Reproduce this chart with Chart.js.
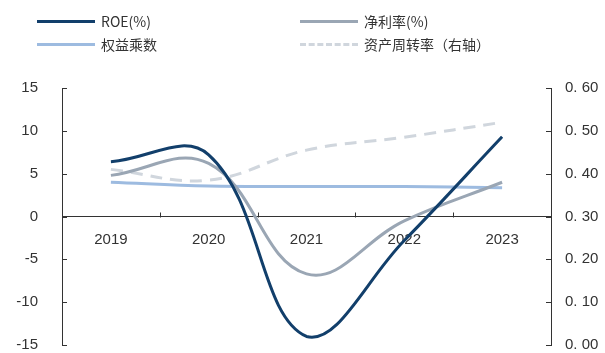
<!DOCTYPE html>
<html>
<head>
<meta charset="utf-8">
<script src="https://cdn.jsdelivr.net/npm/chart.js@4"></script>
<style>
    body { margin: 0; background: #fff; overflow: hidden; }
    #wrap { position: relative; width: 605px; height: 353px; overflow: hidden; }
    #legend { position: absolute; left: 0; top: 0; width: 605px; height: 60px; font-family: "Noto Sans CJK SC", "Liberation Sans", sans-serif; font-size: 14px; color: #333; }
    .item { position: absolute; display: flex; align-items: center; white-space: nowrap; }
    .swatch { width: 58px; height: 0; margin-right: 6px; }
</style>
</head>
<body>
<div id="wrap">
    <!-- taller than the window: the original crops the bottom labels -->
    <canvas id="chart" width="605" height="370"></canvas>
    <div id="legend"></div>
</div>
<script>
const years = ['2019', '2020', '2021', '2022', '2023'];
const roe = [6.4, 7.2, -14.0, -2.8, 9.3];
const netMargin = [4.8, 6.2, -6.7, -0.5, 4.0];
const equityMultiplier = [4.0, 3.55, 3.5, 3.5, 3.35];
const assetTurnover = [0.41, 0.385, 0.455, 0.485, 0.52];

const leftTicks = [-15, -10, -5, 0, 5, 10, 15];
const rightTicks = [0, 0.1, 0.2, 0.3, 0.4, 0.5, 0.6];

const axisColor = '#333';
const labelFont = { family: 'Liberation Sans, Arial, sans-serif', size: 15 };

// ticks that point into the plot, like the original
const innerTicks = {
    id: 'innerTicks',
    afterDraw(chart) {
        const ctx = chart.ctx;
        const { x, y, y1 } = chart.scales;
        const len = 5;
        ctx.save();
        ctx.strokeStyle = axisColor;
        ctx.lineWidth = 1;
        ctx.beginPath();
        leftTicks.forEach(v => {
            const py = Math.round(y.getPixelForValue(v)) + 0.5;
            ctx.moveTo(x.left, py);
            ctx.lineTo(x.left + len, py);
        });
        rightTicks.forEach(v => {
            const py = Math.round(y1.getPixelForValue(v)) + 0.5;
            ctx.moveTo(x.right, py);
            ctx.lineTo(x.right - len, py);
        });
        const y0 = Math.round(y.getPixelForValue(0)) + 0.5;
        for (let i = 1; i < years.length; i++) {
            const px = Math.round((x.getPixelForValue(i - 1) + x.getPixelForValue(i)) / 2) + 0.5;
            ctx.moveTo(px, y0);
            ctx.lineTo(px, y0 - len);
        }
        ctx.stroke();
        ctx.restore();
    }
};

const chart = new Chart(document.querySelector('#chart'), {
    type: 'line',
    data: {
        labels: years,
        datasets: [
            { label: 'ROE(%)', data: roe, borderColor: '#123f6b', borderWidth: 3, yAxisID: 'y' },
            { label: '净利率(%)', data: netMargin, borderColor: '#9aa6b4', borderWidth: 3, yAxisID: 'y' },
            { label: '权益乘数', data: equityMultiplier, borderColor: '#9dbbe0', borderWidth: 3, yAxisID: 'y' },
            { label: '资产周转率（右轴）', data: assetTurnover, borderColor: '#d0d6dd', borderWidth: 3, borderDash: [12, 8], yAxisID: 'y1' }
        ]
    },
    options: {
        responsive: false,
        animation: false,
        layout: { padding: { top: 88, bottom: 0, left: 0, right: 0 } },
        elements: {
            point: { radius: 0 },
            line: { tension: 0.4, fill: false, borderCapStyle: 'butt' }
        },
        plugins: {
            legend: { display: false },
            tooltip: { enabled: false }
        },
        scales: {
            x: {
                position: { y: 0 },
                offset: true,
                grid: { display: false },
                border: { display: true, color: axisColor, width: 1 },
                ticks: { color: axisColor, font: labelFont, padding: 6 }
            },
            y: {
                position: 'left',
                min: -15,
                max: 15,
                afterBuildTicks: scale => { scale.ticks = leftTicks.map(v => ({ value: v })); },
                afterFit: scale => { scale.width = 62; },
                grid: { display: false },
                border: { display: true, color: axisColor, width: 1 },
                ticks: { color: axisColor, font: labelFont, padding: 16 }
            },
            y1: {
                position: 'right',
                min: 0,
                max: 0.6,
                afterBuildTicks: scale => { scale.ticks = rightTicks.map(v => ({ value: v })); },
                afterFit: scale => { scale.width = 54; },
                grid: { display: false },
                border: { display: true, color: axisColor, width: 1 },
                ticks: {
                    color: axisColor,
                    font: labelFont,
                    padding: 6,
                    callback: v => v.toFixed(2).replace('.', '. ')
                }
            }
        }
    },
    plugins: [innerTicks]
});

// two-column legend above the plot
const legendSpots = [
    { left: 37, top: 11 }, { left: 300, top: 11 },
    { left: 37, top: 34 }, { left: 300, top: 34 }
];
const legend = document.querySelector('#legend');
chart.data.datasets.forEach((ds, i) => {
    const item = document.createElement('div');
    item.className = 'item';
    item.style.left = legendSpots[i].left + 'px';
    item.style.top = legendSpots[i].top + 'px';
    const sw = document.createElement('span');
    sw.className = 'swatch';
    sw.style.borderTop = `3px ${ds.borderDash ? 'dashed' : 'solid'} ${ds.borderColor}`;
    const txt = document.createElement('span');
    txt.textContent = ds.label;
    item.appendChild(sw);
    item.appendChild(txt);
    legend.appendChild(item);
});
</script>
</body>
</html>
